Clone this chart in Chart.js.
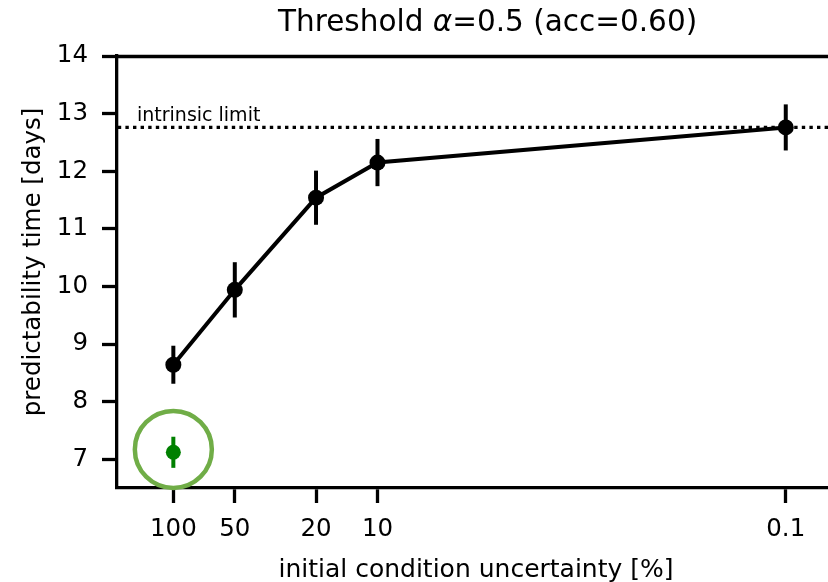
<!DOCTYPE html>
<html>
<head>
<meta charset="utf-8">
<script src="https://cdn.jsdelivr.net/npm/chart.js@4/dist/chart.umd.min.js"></script>
<style>
  html, body { margin: 0; padding: 0; background: #fff; overflow: hidden; }
  #wrap { position: relative; width: 828px; height: 582px; font-family: 'DejaVu Sans', sans-serif; color: #000; }
  #c { position: absolute; left: 0; top: 0; }
  .lbl { position: absolute; white-space: nowrap; line-height: normal; }
  #title { left: 278px; width: 400px; text-align: center; top: 4px; font-size: 29.5px; }
  #xlab { left: 276px; width: 400px; text-align: center; top: 554px; font-size: 25px; }
  #ylab { left: -168px; width: 400px; text-align: center; top: 247px; font-size: 24.5px; transform: rotate(-90deg); transform-origin: 200px 15px; }
</style>
</head>
<body>
<div id="wrap">
  <canvas id="c" width="828" height="582"></canvas>
  <div class="lbl" id="title">Threshold <i>α</i>=0.5 (acc=0.60)</div>
  <div class="lbl" id="xlab">initial condition uncertainty [%]</div>
  <div class="lbl" id="ylab">predictability time [days]</div>
</div>
<script>
// ─── Data ────────────────────────────────────────────────────────────────────
const xValues     = [100, 50, 20, 10, 0.1];          // initial condition uncertainty [%]
const xTickLabels = ['100', '50', '20', '10', '0.1'];
const yMeans      = [8.64, 9.94, 11.54, 12.15, 12.76]; // predictability time [days]
const yErrors     = [0.33, 0.48, 0.47, 0.41, 0.40];
const greenX      = [100];
const greenY      = [7.12];
const greenErr    = [0.27];
const circleY     = [7.17];
const intrinsicLimit = 12.76;
const yTicks      = [7, 8, 9, 10, 11, 12, 13, 14];
const xMin = 0.0621, xMax = 188.8, yMin = 6.5, yMax = 14;

const FONT = 'DejaVu Sans';

// ─── Custom plugin: error bars, top spine, limit label ───────────────────────
Chart.register({
  id: 'errorBars',
  beforeDatasetsDraw(chart) {
    const { ctx, scales: { x, y } } = chart;
    chart.data.datasets.forEach((ds, i) => {
      if (!ds._err || !chart.isDatasetVisible(i)) return;
      ctx.save();
      ctx.strokeStyle = ds.borderColor; ctx.lineWidth = 4;
      ds.data.forEach((p, j) => {
        const px = x.getPixelForValue(p.x);
        ctx.beginPath();
        ctx.moveTo(px, y.getPixelForValue(p.y - ds._err[j]));
        ctx.lineTo(px, y.getPixelForValue(p.y + ds._err[j]));
        ctx.stroke();
      });
      ctx.restore();
    });
  },
  afterDraw(chart) {
    const { ctx, chartArea: a, scales: { y } } = chart;
    ctx.save();
    ctx.strokeStyle = '#000'; ctx.lineWidth = 3.3;
    ctx.beginPath(); ctx.moveTo(a.left, a.top + 0.5); ctx.lineTo(a.right, a.top + 0.5); ctx.stroke();
    ctx.fillStyle = '#000';
    ctx.font = '19px ' + FONT;
    ctx.textAlign = 'left'; ctx.textBaseline = 'alphabetic';
    ctx.fillText('intrinsic limit', a.left + 20, y.getPixelForValue(intrinsicLimit) - 6);
    ctx.restore();
  }
});

const tickFont = { family: FONT, size: 24.5 };

new Chart(document.getElementById('c'), {
  type: 'line',
  data: {
    datasets: [
      { label: 'limit', data: [{ x: xMin, y: intrinsicLimit }, { x: xMax, y: intrinsicLimit }],
        borderColor: '#000', borderWidth: 3.4, borderDash: [3.4, 4.2], pointRadius: 0, fill: false },
      { label: 'mean', data: xValues.map((v, i) => ({ x: v, y: yMeans[i] })), _err: yErrors,
        borderColor: '#000', backgroundColor: '#000', borderWidth: 4,
        pointRadius: 8, pointHoverRadius: 8, pointBorderWidth: 0, fill: false, clip: false },
      { label: 'green', data: greenX.map((v, i) => ({ x: v, y: greenY[i] })), _err: greenErr,
        showLine: false, borderColor: '#008000', backgroundColor: '#008000',
        pointRadius: 7.5, pointBorderWidth: 0, clip: false },
      { label: 'circle', data: greenX.map((v, i) => ({ x: v, y: circleY[i] })),
        showLine: false, borderColor: '#70ad47', backgroundColor: 'rgba(0,0,0,0)',
        pointRadius: 38.5, pointBorderWidth: 4.5, clip: false },
    ]
  },
  options: {
    responsive: false, animation: false, devicePixelRatio: 1,
    layout: { autoPadding: false, padding: { top: 56, left: 0, right: 0, bottom: 0 } },
    plugins: { legend: { display: false }, tooltip: { enabled: false } },
    scales: {
      x: {
        type: 'logarithmic', reverse: true, min: xMin, max: xMax,
        afterBuildTicks: s => { s.ticks = xValues.map(v => ({ value: v })); },
        afterFit: s => { s.height = 94; s.paddingLeft = 0; s.paddingRight = 0; },
        ticks: { font: tickFont, color: '#000', padding: 12, maxRotation: 0, autoSkip: false,
          callback: (v, i) => xTickLabels[i] },
        grid: { drawOnChartArea: false, tickLength: 15, tickWidth: 3.3, tickColor: '#000' },
        border: { display: true, color: '#000', width: 3.3 }
      },
      y: {
        min: yMin, max: yMax,
        afterBuildTicks: s => { s.ticks = yTicks.map(v => ({ value: v })); },
        afterFit: s => { s.width = 117; s.paddingTop = 0; s.paddingBottom = 0; },
        ticks: { font: tickFont, color: '#000', padding: 14 },
        grid: { drawOnChartArea: false, tickLength: 15, tickWidth: 3.3, tickColor: '#000' },
        border: { display: true, color: '#000', width: 3.3 }
      }
    }
  }
});
</script>
</body>
</html>
